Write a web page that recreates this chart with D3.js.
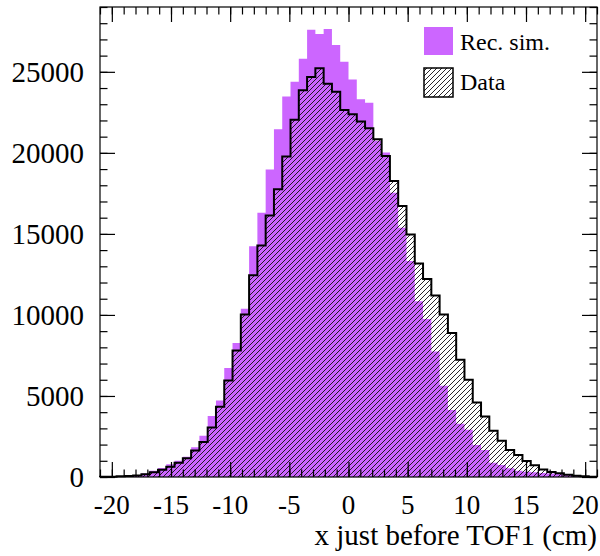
<!DOCTYPE html>
<html>
<head>
<meta charset="utf-8">
<script src="https://cdn.jsdelivr.net/npm/d3@7"></script>
<style>
    body { margin: 0; background: #fff; }
    svg { display: block; }
    text { font-family: 'Liberation Serif', 'DejaVu Serif', serif; fill: #000; }
</style>
</head>
<body>
<svg></svg>
<script>

/*
*   Histogram contents, 60 bins of 0.7 cm from -21 to 21.
*/

const BIN_LOW = -21
const BIN_WIDTH = 0.7

const simCounts = [
    10, 20, 40, 70, 120, 220, 390, 560, 780, 1010,
    1250, 1840, 2540, 3770, 4720, 6720, 8270, 10380, 14240, 16310,
    18980, 21460, 23480, 24390, 25810, 27600, 27340, 27640, 26650, 25620,
    24520, 23310, 23090, 20740, 20020, 17540, 15380, 13320, 10840, 9750,
    7750, 5630, 4140, 3280, 2910, 1980, 1670, 880, 740, 540,
    390, 330, 290, 250, 220, 180, 150, 120, 60, 20,
]

const dataCounts = [
    10, 20, 40, 60, 100, 170, 300, 450, 640, 880,
    1160, 1630, 2160, 3050, 4330, 5960, 7810, 10020, 12450, 14290,
    16140, 17750, 19770, 22050, 23860, 24680, 25220, 24260, 23770, 22650,
    22390, 21940, 21520, 20840, 19810, 18260, 16720, 14970, 13170, 12220,
    11200, 10030, 8890, 7240, 6000, 4600, 3730, 2860, 2230, 1670,
    1360, 990, 720, 470, 310, 230, 145, 80, 40, 20,
]

const xMajorTicks = [-20, -15, -10, -5, 0, 5, 10, 15, 20]
const yMajorTicks = [0, 5000, 10000, 15000, 20000, 25000]
const legendLabels = ['Rec. sim.', 'Data']
const xTitle = 'x just before TOF1 (cm)'


/*
*   Constants
*/

const WIDTH = 600
const HEIGHT = 556
const FRAME = { left: 100, right: 597, top: 7, bottom: 477 }
const PURPLE = '#cc66ff'
const MAJOR = 15
const MINOR = 7.5


/*
*   Scales
*/

const x = d3.scaleLinear().domain([-21, 21]).range([FRAME.left, FRAME.right])
const y = d3.scaleLinear().domain([0, 29000]).range([FRAME.bottom, FRAME.top])

const svg = d3.select('svg')
.attr('width', WIDTH)
.attr('height', HEIGHT)

const defs = svg.append('defs')

defs.append('pattern')
.attr('id', 'hatch')
.attr('patternUnits', 'userSpaceOnUse')
.attr('width', 5)
.attr('height', 5)
.append('path')
.attr('d', 'M-1,1 l2,-2 M0,5 l5,-5 M4,6 l2,-2')
.attr('stroke', '#111')
.attr('stroke-width', 0.9)


/*
*   Turns bin counts into step points, closed at zero on both ends.
*/

const toSteps = counts => {
    const pts = [{ e: BIN_LOW, v: 0 }]
    counts.forEach((v, i) => pts.push({ e: BIN_LOW + i * BIN_WIDTH, v }))
    pts.push({ e: BIN_LOW + counts.length * BIN_WIDTH, v: counts[counts.length - 1] })
    pts.push({ e: BIN_LOW + counts.length * BIN_WIDTH, v: 0 })
    return pts
}

const area = d3.area()
.curve(d3.curveStepAfter)
.x(d => x(d.e))
.y0(y(0))
.y1(d => y(d.v))

const line = d3.line()
.curve(d3.curveStepAfter)
.x(d => x(d.e))
.y(d => y(d.v))

const plot = svg.append('g')

plot.append('path')
.attr('d', area(toSteps(simCounts)))
.attr('fill', PURPLE)

plot.append('path')
.attr('d', area(toSteps(dataCounts)))
.attr('fill', 'url(#hatch)')

plot.append('path')
.attr('d', line(toSteps(dataCounts)))
.attr('fill', 'none')
.attr('stroke', '#000')
.attr('stroke-width', 2)


/*
*   Axes, ticks on all four sides pointing inward.
*/

const xMinor = d3.range(-21, 22, 1)
const yMinor = d3.range(0, 29001, 1000)

const addAxis = (axisFn, scale, values, size, transform) => {
    svg.append('g')
    .attr('transform', transform)
    .call(axisFn(scale).tickValues(values).tickSize(size).tickFormat(''))
    .call(g => g.select('.domain').remove())
    .call(g => g.selectAll('line').attr('stroke', '#000').attr('stroke-width', 1.2))
}

addAxis(d3.axisBottom, x, xMinor, -MINOR, `translate(0,${FRAME.bottom})`)
addAxis(d3.axisBottom, x, xMajorTicks, -MAJOR, `translate(0,${FRAME.bottom})`)
addAxis(d3.axisTop, x, xMinor, -MINOR, `translate(0,${FRAME.top})`)
addAxis(d3.axisTop, x, xMajorTicks, -MAJOR, `translate(0,${FRAME.top})`)
addAxis(d3.axisLeft, y, yMinor, -MINOR, `translate(${FRAME.left},0)`)
addAxis(d3.axisLeft, y, yMajorTicks, -MAJOR, `translate(${FRAME.left},0)`)
addAxis(d3.axisRight, y, yMinor, -MINOR, `translate(${FRAME.right},0)`)
addAxis(d3.axisRight, y, yMajorTicks, -MAJOR, `translate(${FRAME.right},0)`)

svg.append('rect')
.attr('x', FRAME.left)
.attr('y', FRAME.top)
.attr('width', FRAME.right - FRAME.left)
.attr('height', FRAME.bottom - FRAME.top)
.attr('fill', 'none')
.attr('stroke', '#000')
.attr('stroke-width', 1.2)


/*
*   Tick labels and title.
*/

svg.append('g')
.selectAll('text')
.data(xMajorTicks)
.join('text')
.attr('x', d => x(d))
.attr('y', 514)
.attr('text-anchor', 'middle')
.attr('font-size', 27)
.text(d => d)

svg.append('g')
.selectAll('text')
.data(yMajorTicks)
.join('text')
.attr('x', 84)
.attr('y', d => y(d) + 10)
.attr('text-anchor', 'end')
.attr('font-size', 29)
.text(d => d)

svg.append('text')
.attr('x', FRAME.right)
.attr('y', 545)
.attr('text-anchor', 'end')
.attr('font-size', 29)
.text(xTitle)


/*
*   Legend
*/

const legend = svg.append('g')

legend.append('rect')
.attr('x', 424).attr('y', 27)
.attr('width', 29).attr('height', 28)
.attr('fill', PURPLE)

legend.append('rect')
.attr('x', 424).attr('y', 68)
.attr('width', 29).attr('height', 29)
.attr('fill', 'url(#hatch)')
.attr('stroke', '#000')
.attr('stroke-width', 1.5)

legend.selectAll('text')
.data(legendLabels)
.join('text')
.attr('x', 460)
.attr('y', (d, i) => 50 + i * 40)
.attr('font-size', 24)
.text(d => d)

</script>
</body>
</html>
